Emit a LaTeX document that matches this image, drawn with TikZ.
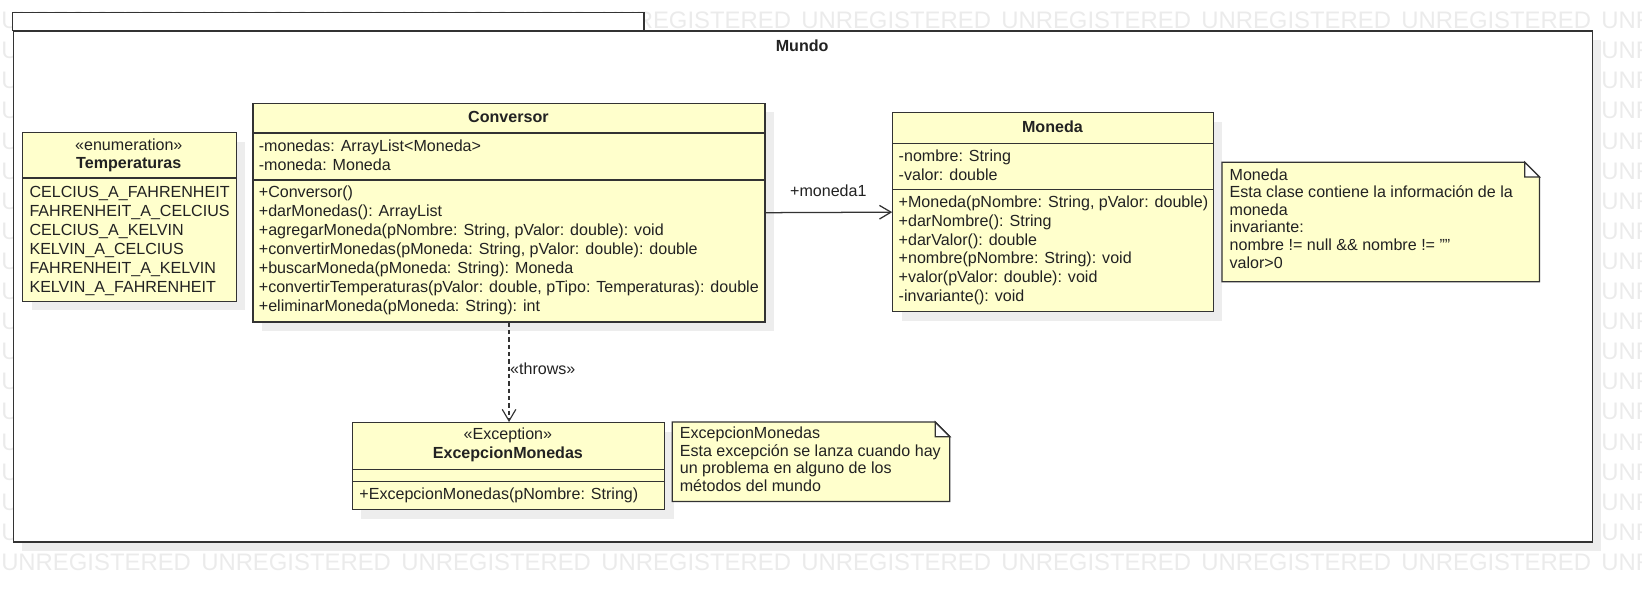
\documentclass[tikz,border=0pt]{standalone}
\usepackage{fontspec}
\setmainfont{Liberation Sans}
\usetikzlibrary{arrows.meta,shadows}
\definecolor{umlfill}{HTML}{FFFFCC}
\definecolor{umlline}{HTML}{333333}
\definecolor{umlshadow}{HTML}{EDEDED}
\definecolor{wmgray}{HTML}{EBEBEB}
\definecolor{umltext}{HTML}{222222}
\newcommand{\uf}{\fontsize{15.35}{18}\selectfont}
\newcommand{\umllist}[5]{%
  \foreach \itm [count=\i] in {#5} {\node[lt] (#1\i) at (#2, {#3+#4*(\i-1)}) {\itm};}}
\tikzset{
  txt/.style={inner sep=0pt, font=\uf, text=umltext},
  lt/.style={txt, anchor=base west},
  ct/.style={txt, anchor=base},
  bt/.style={ct, font=\uf\bfseries},
  classbox/.style={draw=umlline, fill=umlfill, line width=1.2pt, inner sep=0pt,
    anchor=north west,
    general shadow={fill=umlshadow, shadow xshift=8.6pt, shadow yshift=-8.6pt}},
  pkgbox/.style={draw=umlline, fill=white, line width=1.2pt, inner sep=0pt,
    anchor=north west,
    general shadow={fill=umlshadow, shadow xshift=8.6pt, shadow yshift=-8.6pt}},
  sepline/.style={draw=umlline, line width=1.2pt},
  notebox/.style={draw=umlline, fill=umlfill, line width=1.2pt, line join=miter},
  foldbox/.style={draw=umlline, fill=white, line width=1.2pt},
  assoc/.style={draw=umlline, line width=1.2pt, -{Straight Barb[length=11pt,width=13pt,line width=1.2pt]}},
  dep/.style={draw=umlline, line width=1.1pt, dash pattern=on 4pt off 3pt, -{Straight Barb[length=11pt,width=13pt,line width=1.1pt]}},
  wm/.style={inner sep=0pt, anchor=base west, font=\fontsize{22.8}{24}\selectfont, text=wmgray}
}
\begin{document}
\begin{tikzpicture}[x=1pt,y=-1pt]
\useasboundingbox (0,0) rectangle (1568,565.4);
% watermark
\foreach \r in {0,...,18} {
  \foreach \c in {0,...,8} {
    \node[wm] (wm\r-\c) at ({1+191*\c}, {27.3+28.75*\r}) {UNREGISTERED};
  }
}
% package
\node[pkgbox, minimum width=1508pt, minimum height=488pt] (pkg) at (12,29) {};
\draw[sepline, fill=white] (12,12) rectangle (615,29);
\node[bt] (mundo) at (766,49) {Mundo};

% Temperaturas
\node[classbox, minimum width=204pt, minimum height=161pt] (temp) at (21,126) {};
\draw[sepline] (21,170) -- (225,170);
\node[ct] (tempst) at (123,144) {«enumeration»};
\node[bt] (tempname) at (123,161) {Temperaturas};
\umllist{templit}{28}{189}{18}{CELCIUS\_A\_FAHRENHEIT, FAHRENHEIT\_A\_CELCIUS, CELCIUS\_A\_KELVIN, KELVIN\_A\_CELCIUS, FAHRENHEIT\_A\_KELVIN, KELVIN\_A\_FAHRENHEIT}

% Conversor
\node[classbox, minimum width=489pt, minimum height=209pt] (conv) at (241,98) {};
\draw[sepline] (241,127) -- (730,127);
\draw[sepline] (241,172) -- (730,172);
\node[bt] (convname) at (485.5,117) {Conversor};
\umllist{convattr}{247}{145}{18}{-monedas: ArrayList<Moneda>, -moneda: Moneda}
\umllist{convop}{247}{189}{18}{+Conversor(), +darMonedas(): ArrayList, {+agregarMoneda(pNombre: String, pValor: double): void}, {+convertirMonedas(pMoneda: String, pValor: double): double}, +buscarMoneda(pMoneda: String): Moneda, {+convertirTemperaturas(pValor: double, pTipo: Temperaturas): double}, +eliminarMoneda(pMoneda: String): int}

% Moneda
\node[classbox, minimum width=306pt, minimum height=190pt] (mon) at (852,107) {};
\draw[sepline] (852,137) -- (1158,137);
\draw[sepline] (852,181) -- (1158,181);
\node[bt] (monname) at (1005,127) {Moneda};
\umllist{monattr}{858}{154}{18}{-nombre: String, -valor: double}
\umllist{monop}{858}{198}{18}{{+Moneda(pNombre: String, pValor: double)}, +darNombre(): String, +darValor(): double, +nombre(pNombre: String): void, +valor(pValor: double): void, -invariante(): void}

% Moneda note
\draw[notebox] (1167,155) -- (1456,155) -- (1470,169) -- (1470,269) -- (1167,269) -- cycle;
\draw[foldbox] (1456,155) -- (1456,169) -- (1470,169) -- cycle;
\umllist{monnote}{1174}{172}{16.8}{Moneda, Esta clase contiene la información de la, moneda, invariante:, nombre != null \&\& nombre != {\char34}{\char34}, valor>0}

% ExcepcionMonedas
\node[classbox, minimum width=298pt, minimum height=83pt] (exc) at (336,403) {};
\draw[sepline] (336,448) -- (634,448);
\draw[sepline] (336,460) -- (634,460);
\node[ct] (excst) at (485,420) {«Exception»};
\node[bt] (excname) at (485,438) {ExcepcionMonedas};
\node[lt] (excop) at (343,477) {+ExcepcionMonedas(pNombre: String)};

% Excepcion note
\draw[notebox] (642,403) -- (893,403) -- (907,417) -- (907,479) -- (642,479) -- cycle;
\draw[foldbox] (893,403) -- (893,417) -- (907,417) -- cycle;
\umllist{excnote}{649}{419}{16.8}{ExcepcionMonedas, Esta excepción se lanza cuando hay, un problema en alguno de los, métodos del mundo}

% connectors
\draw[assoc] (conv.east) -- (mon.west);
\node[ct] (assoclabel) at (791,188) {+moneda1};
\draw[dep] (conv.south) -- (conv.south |- exc.north);
\node[lt] (deplabel) at (487,358) {«throws»};
\end{tikzpicture}
\end{document}
